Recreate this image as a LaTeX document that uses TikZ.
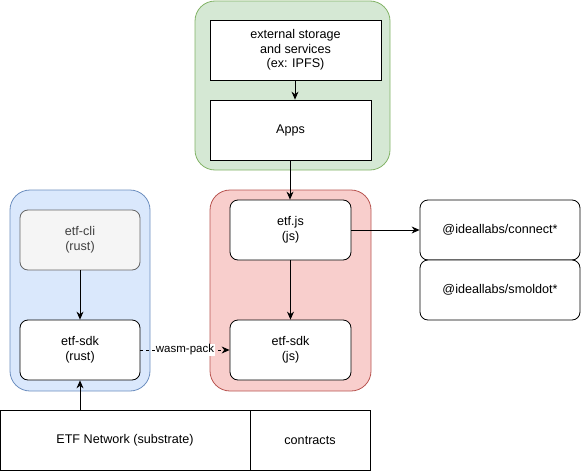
\documentclass[tikz,border=0pt]{standalone}
\usepackage{fontspec}
\setmainfont{Liberation Sans}
\usepackage{xcolor}
\usetikzlibrary{arrows.meta,positioning}
\definecolor{GroupGreen}{HTML}{D5E8D4}
\definecolor{GroupGreenLine}{HTML}{82B366}
\definecolor{GroupBlue}{HTML}{DAE8FC}
\definecolor{GroupBlueLine}{HTML}{6C8EBF}
\definecolor{GroupRed}{HTML}{F8CECC}
\definecolor{GroupRedLine}{HTML}{B85450}
\definecolor{CliGray}{HTML}{F5F5F5}
\definecolor{CliGrayLine}{HTML}{666666}

\begin{document}
\begin{tikzpicture}[
x=1pt,y=-1pt,
font=\fontsize{12.6}{14.6}\selectfont,
group/.style={
rounded corners=20pt,
line width=0.8pt
},
box/.style={
draw=black,
fill=white,
line width=0.8pt,
align=center,
inner sep=0pt
},
softbox/.style={
box,
rounded corners=8pt
},
link/.style={
-{Stealth[length=8pt,width=7pt]},
line width=0.8pt
}
]
\useasboundingbox (0,0) rectangle (581,471);

% groups
\draw[group,fill=GroupGreen,draw=GroupGreenLine] (195,1) rectangle (390,170);
\draw[group,fill=GroupBlue,draw=GroupBlueLine] (10,190) rectangle (150,391);
\draw[group,fill=GroupRed,draw=GroupRedLine] (210,190) rectangle (371,391);

% boxes
\node[box,minimum width=171pt,minimum height=60pt] (ext) at (295.5,50)
{external storage\\and services\\(ex: IPFS)};
\node[box,minimum width=161pt,minimum height=60pt] (apps) at (290.5,130) {Apps};

\node[softbox,minimum width=121pt,minimum height=60pt] (etfjs) at (290.5,230) {etf.js\\(js)};
\node[softbox,minimum width=121pt,minimum height=60pt] (sdkjs) at (290.5,350) {etf-sdk\\(js)};

\node[softbox,fill=CliGray,draw=CliGrayLine,text=black!75,
minimum width=120pt,minimum height=60pt] (cli) at (80,240) {etf-cli\\(rust)};
\node[softbox,minimum width=120pt,minimum height=60pt] (sdkrs) at (80,350) {etf-sdk\\(rust)};

\node[softbox,minimum width=160pt,minimum height=60pt] (connect) at (500,230) {@ideallabs/connect*};
\node[softbox,minimum width=160pt,minimum height=60pt] (smoldot) at (500,290) {@ideallabs/smoldot*};

\node[box,minimum width=250pt,minimum height=60pt] (etfnet) at (125,440) {ETF Network (substrate)};
\node[box,minimum width=120pt,minimum height=60pt] (contracts) at (310,440) {contracts};

% links
\draw[link] (ext.south -| 295,0) -- (apps.north -| 295,0);
\draw[link] (apps.south -| 290,0) -- (etfjs.north -| 290,0);
\draw[link] (etfjs) -- (sdkjs);
\draw[link] (etfjs.east) -- (connect.west);
\draw[link] (cli) -- (sdkrs);
\draw[link] (etfnet.north -| sdkrs) -- (sdkrs.south);
\draw[link,dashed] (sdkrs.east) -- node[fill=white,inner sep=0.5pt,
font=\fontsize{11.5}{13}\selectfont] {wasm-pack} (sdkjs.west);

\end{tikzpicture}
\end{document}
